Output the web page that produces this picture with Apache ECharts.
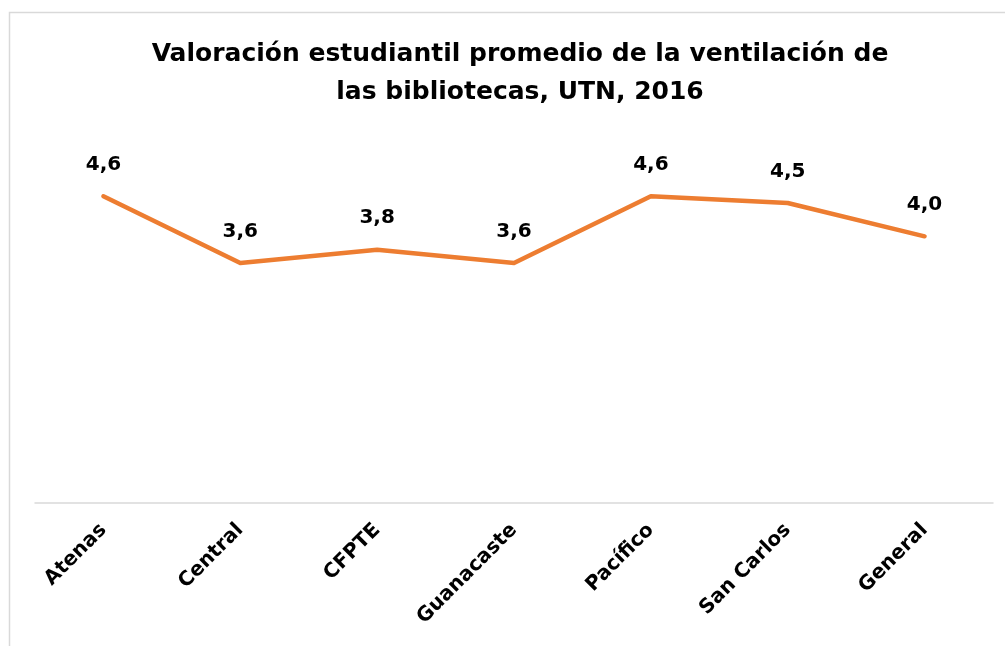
<!DOCTYPE html>
<html>
<head>
<meta charset="utf-8">
<script src="https://cdn.jsdelivr.net/npm/echarts@6/dist/echarts.min.js"></script>
<style>
  html, body { margin: 0; padding: 0; background: #fff; }
  #chart { width: 1005px; height: 646px; }
</style>
</head>
<body>
<div id="chart"></div>
<script>
// datos del gráfico
var sedes = ['Atenas', 'Central', 'CFPTE', 'Guanacaste', 'Pacífico', 'San Carlos', 'General'];
var valoracion = [4.6, 3.6, 3.8, 3.6, 4.6, 4.5, 4.0];

var chart = echarts.init(document.getElementById('chart'));
var fuente = '"DejaVu Sans", "Noto Sans", sans-serif';

var option = {
    backgroundColor: '#fff',
    title: {
        text: 'Valoración estudiantil promedio de la ventilación de\nlas bibliotecas, UTN, 2016',
        left: 515,
        textAlign: 'center',
        top: 30,
        textStyle: {
            fontFamily: fuente,
            fontSize: 25,
            fontWeight: 'bold',
            color: '#000',
            lineHeight: 38
        }
    },
    graphic: [{
        type: 'rect',
        shape: { x: 9.5, y: 12.5, width: 1010, height: 650 },
        style: { fill: 'none', stroke: '#d9d9d9', lineWidth: 1.5 },
        silent: true
    }],
    grid: { left: 35, right: 12, top: 103, bottom: 143 },
    xAxis: {
        type: 'category',
        data: sedes,
        axisLine: { lineStyle: { color: '#d9d9d9', width: 1.5 } },
        axisTick: { show: false },
        axisLabel: {
            rotate: 45,
            margin: 24,
            interval: 0,
            fontFamily: fuente,
            fontSize: 20,
            fontWeight: 'bold',
            color: '#000'
        }
    },
    yAxis: {
        type: 'value',
        min: 0,
        max: 6,
        show: false,
        splitLine: { show: false }
    },
    series: [{
        type: 'line',
        data: valoracion,
        symbol: 'circle',
        symbolSize: 1,
        showSymbol: true,
        itemStyle: { color: 'rgba(0,0,0,0)' },
        lineStyle: { color: '#ED7D31', width: 4.5, cap: 'round', join: 'round' },
        label: {
            show: true,
            position: 'top',
            distance: 21,
            fontFamily: fuente,
            fontSize: 20,
            fontWeight: 'bold',
            color: '#000',
            formatter: function (p) {
                return p.value.toFixed(1).replace('.', ',');
            }
        }
    }]
};

chart.setOption(option);
</script>
</body>
</html>
